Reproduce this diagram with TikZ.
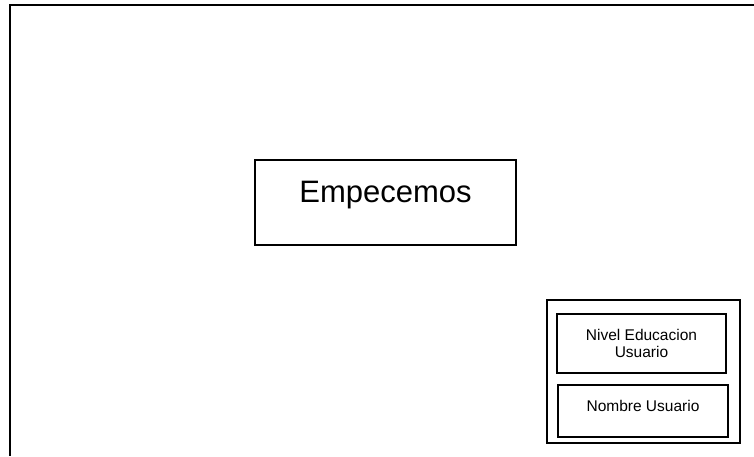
\documentclass[tikz,border=0pt]{standalone}
\usepackage{fontspec}
\setmainfont{Liberation Sans}
\begin{document}
\begin{tikzpicture}[x=1pt, y=-1pt,
  frameline/.style={draw=black, line width=1.7pt},
  box/.style={draw=black, line width=1.7pt, inner sep=0pt, outer sep=0pt},
  bigtext/.style={font=\fontsize{31}{37}\selectfont},
  smalltext/.style={font=\fontsize{15.5}{17.5}\selectfont}]
\useasboundingbox (0,0) rectangle (754,456);

% screen frame, running off the right and bottom edges
\coordinate (frameTR) at (754,5);
\coordinate (frameTL) at (10,5);
\coordinate (frameBL) at (10,456);
\draw[frameline] (frameTR) -- (frameTL) -- (frameBL);

% central title box
\node[box, bigtext, minimum width=261pt, minimum height=85pt,
      text height=21pt, text depth=21pt] (title) at (385.5,202.5) {Empecemos};

% side panel with the user fields
\node[box, minimum width=193pt, minimum height=143pt] (panel) at (643.5,371.5) {};
\node[box, smalltext, align=center, minimum width=169pt, minimum height=59pt]
      (nivel) at (641.5,343.5) {Nivel Educacion\\Usuario};
\node[box, smalltext, minimum width=170pt, minimum height=52pt,
      text height=11pt, text depth=11pt] (nombre) at (643,411) {Nombre Usuario};
\end{tikzpicture}
\end{document}
